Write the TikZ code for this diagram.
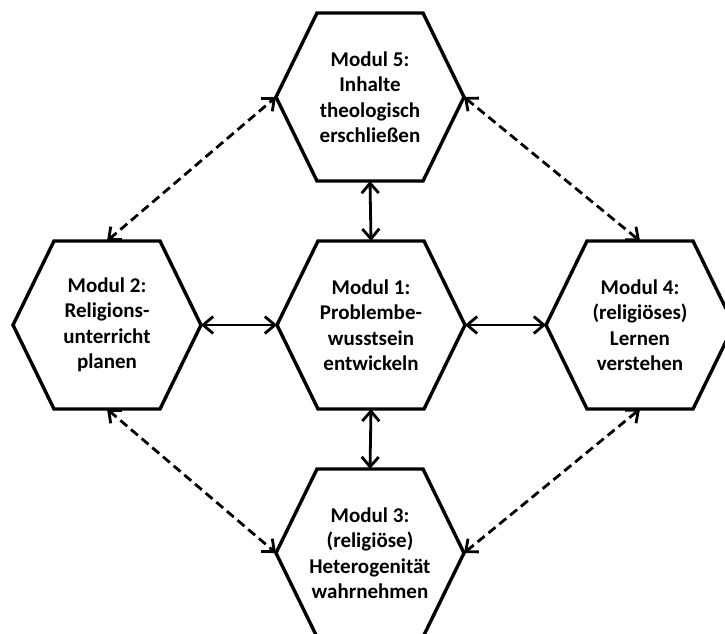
\documentclass[tikz,border=0pt]{standalone}
\usepackage{fontspec}
\setmainfont{Carlito}
\usepackage{tikz}
\usetikzlibrary{arrows.meta,calc}

\tikzset{
  hexmod/.style={minimum width=188pt, minimum height=168pt, inner sep=0pt, outer sep=0pt,
    align=center, font=\fontsize{21}{25.5}\selectfont\bfseries},
  hexline/.style={line width=3.4pt, line join=miter},
  biarrow/.style={line width=2.8pt, {Straight Barb[length=10pt,width=17pt]}-{Straight Barb[length=10pt,width=17pt]}},
  dasharrow/.style={biarrow, dash pattern=on 9pt off 5pt}
}

\begin{document}
\begin{tikzpicture}[x=1pt,y=-1pt]

\useasboundingbox (0,0) rectangle (725,634);

% the five modules
\node[hexmod] (m1) at (371,325) {Modul 1:\\Problembe-\\wusstsein\\entwickeln};
\node[hexmod] (m2) at (107,325) {Modul 2:\\Religions-\\unterricht\\planen};
\node[hexmod] (m3) at (370,553) {Modul 3:\\(religiöse)\\Heterogenität\\wahrnehmen};
\node[hexmod] (m4) at (640,325) {Modul 4:\\(religiöses)\\Lernen\\verstehen};
\node[hexmod] (m5) at (370,97) {Modul 5:\\Inhalte\\theologisch\\erschließen};

% hexagon outlines round each module
\foreach \m in {m1,m2,m3,m4,m5}
\draw[hexline] (\m.west) -- ([xshift=-53pt]\m.north) -- ([xshift=53pt]\m.north)
  -- (\m.east) -- ([xshift=53pt]\m.south) -- ([xshift=-53pt]\m.south) -- cycle;

% solid links to the centre
\draw[biarrow] (m1.north) -- (m5.south);
\draw[biarrow] (m1.west) -- (m2.east);
\draw[biarrow] (m1.east) -- (m4.west);
\draw[biarrow] (m1.south) -- (m3.north);

% dashed links round the outside
\draw[dasharrow] (m2.north) -- (m5.west);
\draw[dasharrow] (m5.east) -- (m4.north);
\draw[dasharrow] (m2.south) -- (m3.west);
\draw[dasharrow] (m3.east) -- (m4.south);

\end{tikzpicture}
\end{document}
